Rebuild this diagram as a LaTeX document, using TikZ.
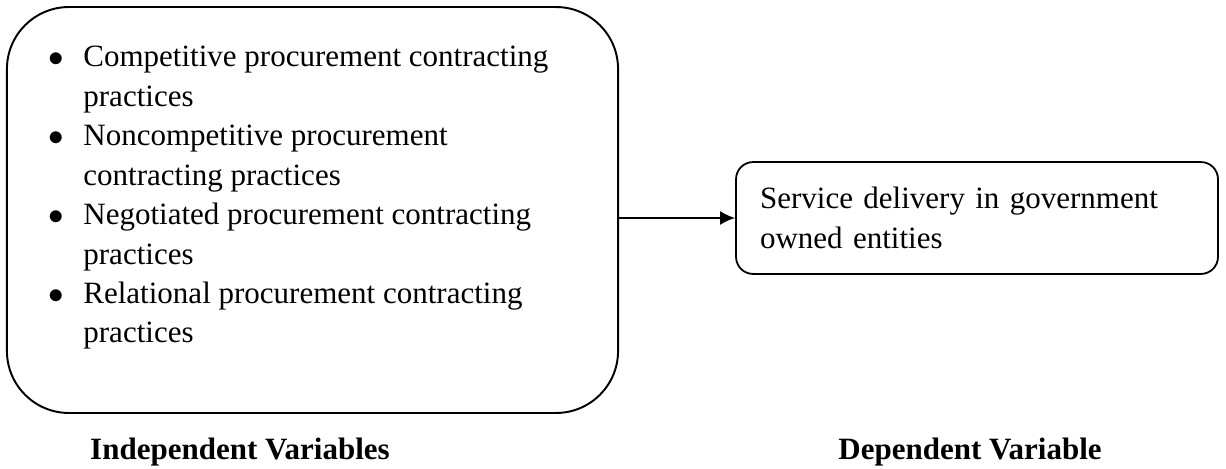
\documentclass[tikz,border=0pt]{standalone}
\usepackage{fontspec}
\setmainfont{Liberation Serif}
\usepackage{tikz}
\usetikzlibrary{arrows.meta,positioning}

\tikzset{
  varbox/.style={draw, line width=0.75pt, rounded corners=24pt,
    minimum width=236.5pt, minimum height=157.1pt},
  depbox/.style={draw, line width=0.7pt, rounded corners=6.6pt,
    minimum width=186.5pt, minimum height=43.3pt, text width=167.9pt,
    inner xsep=9.3pt, align=left},
  varlabel/.style={font=\fontsize{12}{15.25}\selectfont\bfseries, anchor=base},
}

\begin{document}
\begin{tikzpicture}[x=0.387pt, y=-0.387pt, font=\fontsize{12}{15.25}\selectfont]
  \useasboundingbox (0,0) rectangle (1226,469);

  \node (indep) [varbox] at (312.5,210) {};
  \node (items) [anchor=base west, inner sep=0pt] at (48,67) {%
    \begin{tabular}[t]{@{}p{13.5pt}@{}l@{}}
      $\bullet$ & Competitive procurement contracting\\
                & practices\\
      $\bullet$ & Noncompetitive procurement\\
                & contracting practices\\
      $\bullet$ & Negotiated procurement contracting\\
                & practices\\
      $\bullet$ & Relational procurement contracting\\
                & practices
    \end{tabular}};

  \node (dep) [depbox] at (977,218) {Service delivery in government\\owned entities};

  \draw [-{Latex[length=5.8pt,width=5.4pt]}, line width=0.75pt] (indep.east |- dep.west) -- (dep.west);

  \node (indeplabel) [varlabel] at (240,459) {Independent Variables};
  \node (deplabel) [varlabel] at (970,459) {Dependent Variable};
\end{tikzpicture}
\end{document}
